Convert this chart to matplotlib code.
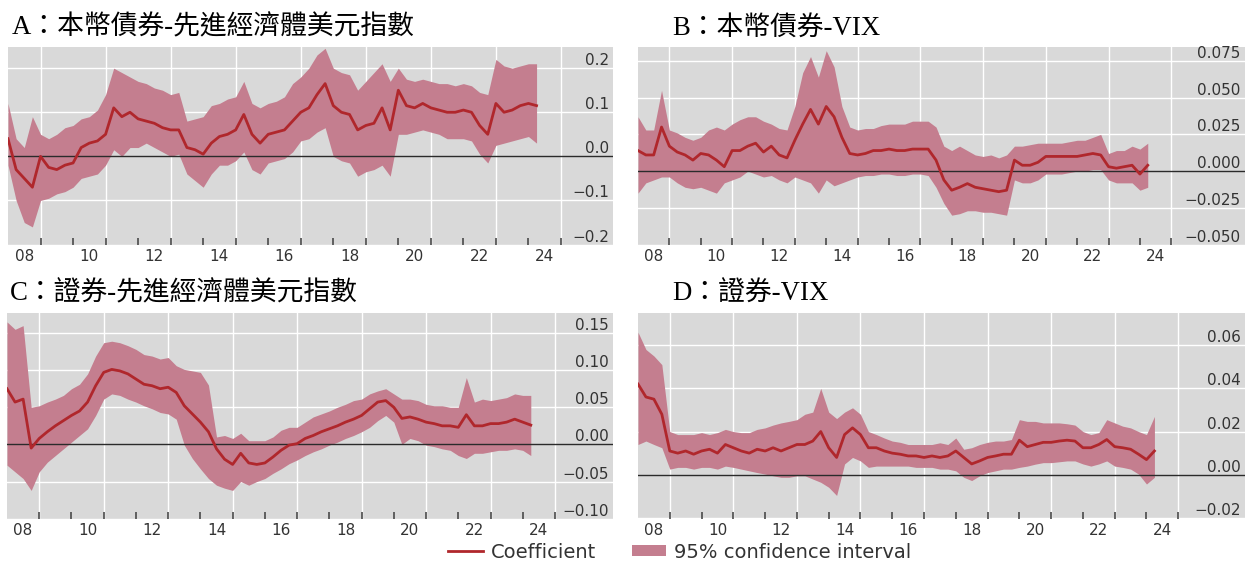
import numpy as np
import matplotlib
matplotlib.use('Agg')
import matplotlib.pyplot as plt
from matplotlib.lines import Line2D
from matplotlib.patches import Patch

# quarterly observation dates, 2008Q1 .. 2024Q2
dates = np.arange(2008.0, 2024.3, 0.25)

# A: local-currency bonds vs AE dollar index
coef_a = [0.04, -0.03, -0.05, -0.07,
          0.00, -0.025, -0.03, -0.02,
          -0.015, 0.02, 0.03, 0.035,
          0.05, 0.11, 0.09, 0.10,
          0.085, 0.08, 0.075, 0.065,
          0.06, 0.06, 0.02, 0.015,
          0.005, 0.03, 0.045, 0.05,
          0.06, 0.095, 0.05, 0.03,
          0.05, 0.055, 0.06, 0.08,
          0.10, 0.11, 0.14, 0.165,
          0.115, 0.10, 0.095, 0.06,
          0.07, 0.075, 0.11, 0.06,
          0.15, 0.115, 0.11, 0.12,
          0.11, 0.105, 0.10, 0.10,
          0.105, 0.10, 0.07, 0.05,
          0.12, 0.10, 0.105, 0.115,
          0.12, 0.115]
hi_a = [0.12, 0.04, 0.02, 0.09,
        0.05, 0.04, 0.05, 0.065,
        0.07, 0.085, 0.09, 0.105,
        0.14, 0.20, 0.19, 0.18,
        0.17, 0.165, 0.155, 0.15,
        0.14, 0.145, 0.08, 0.085,
        0.09, 0.115, 0.12, 0.13,
        0.135, 0.17, 0.12, 0.11,
        0.12, 0.125, 0.135, 0.165,
        0.18, 0.20, 0.23, 0.245,
        0.20, 0.19, 0.185, 0.15,
        0.17, 0.19, 0.21, 0.17,
        0.20, 0.175, 0.17, 0.175,
        0.17, 0.165, 0.165, 0.16,
        0.165, 0.16, 0.145, 0.14,
        0.22, 0.205, 0.20, 0.205,
        0.21, 0.21]
lo_a = [-0.02, -0.10, -0.15, -0.16,
        -0.10, -0.095, -0.085, -0.08,
        -0.07, -0.05, -0.045, -0.04,
        -0.02, 0.015, 0.0, 0.02,
        0.02, 0.03, 0.02, 0.01,
        0.0, 0.005, -0.04, -0.055,
        -0.07, -0.04, -0.02, -0.02,
        -0.01, 0.01, -0.03, -0.04,
        -0.015, -0.01, -0.005, 0.01,
        0.035, 0.04, 0.055, 0.065,
        0.0, -0.01, -0.015, -0.045,
        -0.035, -0.03, -0.02, -0.045,
        0.05, 0.05, 0.055, 0.06,
        0.055, 0.05, 0.04, 0.04,
        0.04, 0.035, 0.005, -0.015,
        0.025, 0.03, 0.035, 0.04,
        0.045, 0.03]

# B: local-currency bonds vs VIX
coef_b = [0.014, 0.011, 0.011, 0.030,
          0.017, 0.013, 0.011, 0.0075,
          0.012, 0.011, 0.0075, 0.003,
          0.014, 0.014, 0.017, 0.019,
          0.013, 0.017, 0.011, 0.009,
          0.021, 0.032, 0.042, 0.032,
          0.044, 0.037, 0.023, 0.012,
          0.011, 0.012, 0.014, 0.014,
          0.015, 0.014, 0.014, 0.015,
          0.015, 0.015, 0.0075, -0.006,
          -0.013, -0.011, -0.0085, -0.011,
          -0.012, -0.013, -0.014, -0.013,
          0.0075, 0.004, 0.004, 0.006,
          0.010, 0.010, 0.010, 0.010,
          0.010, 0.011, 0.012, 0.011,
          0.003, 0.002, 0.003, 0.004,
          -0.002, 0.004]
hi_b = [0.037, 0.028, 0.028, 0.055,
        0.028, 0.026, 0.023, 0.021,
        0.023, 0.028, 0.030, 0.028,
        0.032, 0.035, 0.037, 0.037,
        0.034, 0.032, 0.029, 0.028,
        0.044, 0.067, 0.078, 0.064,
        0.082, 0.071, 0.044, 0.030,
        0.028, 0.029, 0.029, 0.031,
        0.032, 0.032, 0.032, 0.034,
        0.034, 0.034, 0.030, 0.017,
        0.014, 0.017, 0.014, 0.011,
        0.010, 0.011, 0.009, 0.011,
        0.017, 0.017, 0.018, 0.019,
        0.019, 0.019, 0.019, 0.020,
        0.021, 0.021, 0.023, 0.025,
        0.012, 0.014, 0.014, 0.017,
        0.015, 0.019]
lo_b = [-0.015, -0.008, -0.006, -0.004,
        -0.004, -0.008, -0.011, -0.012,
        -0.011, -0.013, -0.015, -0.008,
        -0.006, -0.004, 0.000, -0.002,
        -0.004, -0.003, -0.006, -0.008,
        -0.004, -0.006, -0.008, -0.015,
        -0.006, -0.010, -0.008, -0.006,
        -0.004, -0.003, -0.003, -0.002,
        -0.002, -0.003, -0.003, -0.002,
        -0.002, -0.003, -0.011, -0.022,
        -0.030, -0.029, -0.027, -0.027,
        -0.028, -0.028, -0.029, -0.030,
        -0.006, -0.008, -0.008, -0.006,
        -0.002, -0.002, -0.002, -0.001,
        0.000, 0.000, 0.001, 0.001,
        -0.006, -0.008, -0.008, -0.008,
        -0.013, -0.011]

# C: equities vs AE dollar index
coef_c = [0.075, 0.057, 0.061, -0.005,
          0.008, 0.017, 0.025, 0.032,
          0.039, 0.045, 0.057, 0.079,
          0.097, 0.101, 0.099, 0.095,
          0.088, 0.081, 0.079, 0.075,
          0.077, 0.070, 0.052, 0.041,
          0.030, 0.017, -0.006, -0.020,
          -0.027, -0.012, -0.025, -0.027,
          -0.025, -0.017, -0.008, -0.001,
          0.001, 0.008, 0.012, 0.017,
          0.021, 0.025, 0.030, 0.034,
          0.039, 0.048, 0.057, 0.059,
          0.050, 0.035, 0.037, 0.034,
          0.030, 0.028, 0.025, 0.025,
          0.023, 0.040, 0.025, 0.025,
          0.028, 0.028, 0.030, 0.034,
          0.030, 0.026]
hi_c = [0.165, 0.155, 0.160, 0.050,
        0.052, 0.057, 0.061, 0.066,
        0.075, 0.081, 0.095, 0.119,
        0.137, 0.139, 0.137, 0.133,
        0.128, 0.121, 0.119, 0.115,
        0.117, 0.106, 0.101, 0.099,
        0.097, 0.080, 0.010, 0.012,
        0.008, 0.015, 0.005, 0.005,
        0.005, 0.010, 0.019, 0.023,
        0.023, 0.030, 0.037, 0.041,
        0.045, 0.050, 0.054, 0.059,
        0.061, 0.068, 0.072, 0.075,
        0.068, 0.061, 0.061, 0.059,
        0.054, 0.052, 0.052, 0.050,
        0.050, 0.090, 0.057, 0.061,
        0.059, 0.061, 0.063, 0.068,
        0.066, 0.066]
lo_c = [-0.028, -0.037, -0.046, -0.062,
        -0.037, -0.024, -0.015, -0.006,
        0.003, 0.012, 0.021, 0.039,
        0.061, 0.068, 0.066, 0.061,
        0.057, 0.052, 0.048, 0.043,
        0.041, 0.034, -0.001, -0.019,
        -0.033, -0.046, -0.055, -0.059,
        -0.062, -0.050, -0.055, -0.050,
        -0.046, -0.039, -0.033, -0.026,
        -0.021, -0.015, -0.010, -0.006,
        -0.001, 0.003, 0.008, 0.012,
        0.017, 0.023, 0.032, 0.039,
        0.030, 0.000, 0.008, 0.005,
        -0.001, -0.003, -0.006, -0.008,
        -0.015, -0.019, -0.012, -0.012,
        -0.010, -0.008, -0.008, -0.006,
        -0.008, -0.015]

# D: equities vs VIX
coef_d = [0.042, 0.036, 0.035, 0.028,
          0.011, 0.010, 0.011, 0.0095,
          0.011, 0.0118, 0.010, 0.014,
          0.0125, 0.011, 0.010, 0.0118,
          0.011, 0.0125, 0.011, 0.0125,
          0.014, 0.014, 0.0156, 0.020,
          0.0125, 0.008, 0.0186, 0.0217,
          0.0186, 0.0125, 0.0125, 0.011,
          0.010, 0.0095, 0.0087, 0.0087,
          0.008, 0.0087, 0.008, 0.0087,
          0.011, 0.008, 0.005, 0.0064,
          0.008, 0.0087, 0.0095, 0.0095,
          0.016, 0.013, 0.014, 0.015,
          0.015, 0.0156, 0.016, 0.0156,
          0.0125, 0.0125, 0.014, 0.0163,
          0.013, 0.0125, 0.0118, 0.0095,
          0.007, 0.011]
hi_d = [0.066, 0.058, 0.055, 0.051,
        0.020, 0.0186, 0.0186, 0.0186,
        0.0195, 0.0186, 0.0195, 0.021,
        0.020, 0.0195, 0.0195, 0.021,
        0.0217, 0.023, 0.024, 0.0247,
        0.0255, 0.028, 0.029, 0.040,
        0.029, 0.026, 0.029, 0.031,
        0.028, 0.020, 0.0186, 0.017,
        0.0156, 0.015, 0.014, 0.014,
        0.014, 0.014, 0.0148, 0.014,
        0.017, 0.0118, 0.0125, 0.014,
        0.015, 0.0156, 0.0156, 0.0163,
        0.0255, 0.0247, 0.0247, 0.024,
        0.024, 0.024, 0.0236, 0.023,
        0.020, 0.0186, 0.0195, 0.0255,
        0.024, 0.0225, 0.0217, 0.020,
        0.0186, 0.027]
lo_d = [0.014, 0.0156, 0.014, 0.0125,
        0.0026, 0.0034, 0.0034, 0.0026,
        0.0034, 0.0034, 0.0026, 0.004,
        0.0034, 0.0026, 0.0018, 0.001,
        0.0003, -0.0005, -0.0012, -0.0012,
        -0.0005, -0.0005, -0.002, -0.0035,
        -0.0058, -0.0096, 0.005, 0.008,
        0.0064, 0.0034, 0.004, 0.004,
        0.004, 0.004, 0.004, 0.0034,
        0.0034, 0.0034, 0.0026, 0.0026,
        0.0018, -0.0012, -0.0027, -0.0005,
        0.001, 0.0018, 0.0026, 0.0026,
        0.0034, 0.004, 0.0049, 0.0056,
        0.0056, 0.006, 0.0064, 0.0064,
        0.005, 0.004, 0.005, 0.0064,
        0.004, 0.0034, 0.0026, 0.0003,
        -0.0043, -0.0012]

titles = ['A：本幣債券-先進經濟體美元指數', 'B：本幣債券-VIX',
          'C：證券-先進經濟體美元指數', 'D：證券-VIX']
yticks_a = [-0.2, -0.1, 0.0, 0.1, 0.2]
ylabels_a = ['\u22120.2', '\u22120.1', '0.0', '0.1', '0.2']
yticks_b = [-0.05, -0.025, 0.0, 0.025, 0.05, 0.075]
ylabels_b = ['\u22120.050', '\u22120.025', '0.000', '0.025', '0.050', '0.075']
yticks_c = [-0.10, -0.05, 0.0, 0.05, 0.10, 0.15]
ylabels_c = ['\u22120.10', '\u22120.05', '0.00', '0.05', '0.10', '0.15']
yticks_d = [-0.02, 0.0, 0.02, 0.04, 0.06]
ylabels_d = ['\u22120.02', '0.00', '0.02', '0.04', '0.06']
year_labels = ['08', '10', '12', '14', '16', '18', '20', '22', '24']

BG = '#d9d9d9'
LINE = '#b0272c'
BAND = '#c47e8f'
TXT = '#333333'

plt.rcParams['font.family'] = ['DejaVu Sans']
fig = plt.figure(figsize=(12.5, 5.63), dpi=100)
W, H = 1250, 563


def px_rect(x0, y0, x1, y1):
    return [x0 / W, 1 - y1 / H, (x1 - x0) / W, (y1 - y0) / H]


panels = [
    (px_rect(8, 47, 613, 245), 2026.6, (-0.201, 0.248), yticks_a, ylabels_a, coef_a, lo_a, hi_a, (12, 28)),
    (px_rect(638, 47, 1245, 245), 2027.35, (-0.0503, 0.0845), yticks_b, ylabels_b, coef_b, lo_b, hi_b, (672, 28)),
    (px_rect(7, 313, 613, 519), 2026.8, (-0.1005, 0.177), yticks_c, ylabels_c, coef_c, lo_c, hi_c, (10, 293)),
    (px_rect(638, 313, 1245, 519), 2027.1, (-0.0205, 0.0749), yticks_d, ylabels_d, coef_d, lo_d, hi_d, (672, 293)),
]

for title, (rect, xmax, ylim, yt, yl, coef, lo, hi, tpos) in zip(titles, panels):
    ax = fig.add_axes(rect)
    ax.set_facecolor(BG)
    for s in ax.spines.values():
        s.set_visible(False)
    ax.set_xlim(2008.0, xmax)
    ax.set_ylim(*ylim)

    for y in yt:
        if y != 0:
            ax.axhline(y, color='white', lw=1.0, zorder=1)
    for yr in range(2009, 2026, 2):
        ax.axvline(yr, color='white', lw=1.0, zorder=1)

    ax.fill_between(dates, lo, hi, color=BAND, lw=0, zorder=2)
    ax.axhline(0, color='#2b2b2b', lw=1.0, zorder=3)
    ax.plot(dates, coef, color=LINE, lw=2.0, zorder=4)

    # year boundaries as small inward ticks, labels centred in the year
    ax.set_xticks(range(2009, 2026), labels=[''] * 17)
    ax.set_xticks([2008.5 + 2 * i for i in range(9)], labels=year_labels, minor=True)
    ax.tick_params(axis='x', which='major', direction='in', length=5, width=1.2,
                   color='#4a4a4a')
    ax.tick_params(axis='x', which='minor', length=0, pad=3, labelsize=11,
                   labelcolor=TXT)

    ax.yaxis.tick_right()
    ax.set_yticks(yt, labels=yl)
    ax.tick_params(axis='y', length=0, pad=-3, labelsize=11, labelcolor=TXT)
    for t in ax.get_yticklabels():
        t.set_ha('right')
        t.set_va('bottom')

    fig.text(tpos[0] / W, 1 - tpos[1] / H, title, ha='left', va='center',
             fontsize=19.3, color='black', fontweight='light',
             family=['Liberation Serif', 'Noto Sans CJK TC'])

handles = [Line2D([], [], color=LINE, lw=2.0), Patch(color=BAND, lw=0)]
leg = fig.legend(handles, ['Coefficient', '95% confidence interval'],
                 loc='center', bbox_to_anchor=(680 / W, 1 - 552 / H), ncol=2,
                 frameon=False, fontsize=14, handlelength=1.75, handleheight=0.5,
                 handletextpad=0.45, columnspacing=1.8)
for t in leg.get_texts():
    t.set_color(TXT)

fig.savefig('out.png', dpi=100)
